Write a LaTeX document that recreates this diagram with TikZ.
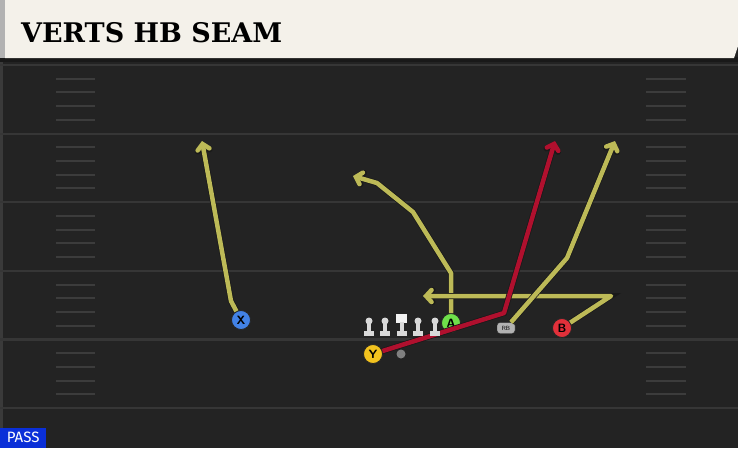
\documentclass[tikz,border=0pt]{standalone}
\usepackage{fontspec}
\newfontfamily\titlefont{DejaVu Serif}
\newfontfamily\tagfont{Fira Sans}
\usetikzlibrary{arrows.meta}

\definecolor{fieldgray}{HTML}{232323}
\definecolor{edgegray}{HTML}{3A3A3A}
\definecolor{yardgray}{HTML}{363636}
\definecolor{hashgray}{HTML}{3C3C3C}
\definecolor{headercream}{HTML}{F4F1EA}
\definecolor{routeyellow}{HTML}{BDBA57}
\definecolor{routered}{HTML}{B0102E}
\definecolor{xblue}{HTML}{4282E6}
\definecolor{yyellow}{HTML}{F2C21E}
\definecolor{agreen}{HTML}{6FE04A}
\definecolor{bred}{HTML}{E2303A}
\definecolor{passblue}{HTML}{0A2FD8}

\tikzset{
    route/.style={line width=4.5pt, line join=round, draw=routeyellow,
        preaction={draw=black!90, line width=6pt},
        -{Straight Barb[length=5.5pt, width=12pt, line cap=round]}},
    redroute/.style={route, draw=routered},
    lineman/.style={fill=black!15},
}

\begin{document}
\begin{tikzpicture}[x=1pt, y=-1pt]
    \useasboundingbox (0,0) rectangle (738,448);

    % field
    \fill[fieldgray] (0,0) rectangle (738,448);
    \fill[edgegray] (0,58) rectangle (3,448);
    \foreach \yl in {65,133.6,202.2,270.8,339.4,408}
        \draw[yardgray, line width=2.2pt] (0,\yl) -- (738,\yl);
    \foreach \yl in {65,133.6,202.2,270.8,339.4}
        \foreach \k in {1,...,4} {
            \draw[hashgray, line width=2pt] (56,\yl+\k*13.72) -- (95,\yl+\k*13.72);
            \draw[hashgray, line width=2pt] (646,\yl+\k*13.72) -- (686,\yl+\k*13.72);
        }

    % header
    \fill[black!90] (0,57) rectangle (738,62);
    \fill[black!30] (0,0) rectangle (5,58);
    \fill[headercream] (5,0) -- (738,0) -- (738,46) -- (734,58) -- (5,58) -- cycle;
    \node[anchor=base west, font=\titlefont\bfseries\fontsize{27}{27}\selectfont, inner sep=0pt]
        (title) at (21,42) {VERTS HB SEAM};

    \node[anchor=south west, fill=passblue, text=white, inner sep=0pt,
        minimum width=46pt, minimum height=20pt, font=\tagfont\fontsize{15}{15}\selectfont]
        (pass) at (0,448) {PASS};

    % players
    \begin{scope}[every node/.style={circle, draw=black!85, thick, minimum size=19pt,
            inner sep=0pt, font=\sffamily\bfseries\fontsize{12}{12}\selectfont}]
        \node[fill=xblue] (X) at (241,320) {X};
        \node[fill=yyellow] (Y) at (373,354) {Y};
        \node[fill=agreen] (A) at (451,323) {A};
        \node[fill=bred] (B) at (562,328) {B};
    \end{scope}
    \node[fill=black!30, draw=black!85, rounded corners=3pt, minimum width=18pt,
        minimum height=11pt, inner sep=0pt, font=\sffamily\fontsize{6}{6}\selectfont]
        (RB) at (506,328) {RB};
    \node[circle, fill=black!50, minimum size=9pt, inner sep=0pt] (QB) at (401,354) {};

    % route points
    \coordinate (x1) at (231,301);
    \coordinate (xend) at (202,141);
    \coordinate (y1) at (504,313);
    \coordinate (yend) at (555,141);
    \coordinate (a1) at (451,273);
    \coordinate (a2) at (413,212);
    \coordinate (a3) at (377,183);
    \coordinate (aend) at (353,176);
    \coordinate (r1) at (567,258);
    \coordinate (rend) at (615,141);
    \coordinate (b1) at (611,296);
    \coordinate (bend) at (423,296);

    \draw[route] (X) -- (x1) -- (xend);
    \draw[route] (A) -- (a1) -- (a2) -- (a3) -- (aend);
    \draw[route] (B) -- (b1) -- (bend);
    \draw[route] (RB) -- (r1) -- (rend);
    \draw[redroute] (Y) -- (y1) -- (yend);

    % line
    \foreach \lx in {369,385,418,435} {
        \fill[lineman] (\lx,321) circle (3.5pt);
        \fill[lineman] (\lx-1.8,321) rectangle (\lx+1.8,332);
        \fill[lineman] (\lx-5,331) rectangle (\lx+5,336);
    }
    \fill[black!5] (396,314) rectangle (407,323);
    \fill[lineman] (400.2,322) rectangle (403.8,332);
    \fill[lineman] (396.5,331) rectangle (406.5,336);
\end{tikzpicture}
\end{document}
